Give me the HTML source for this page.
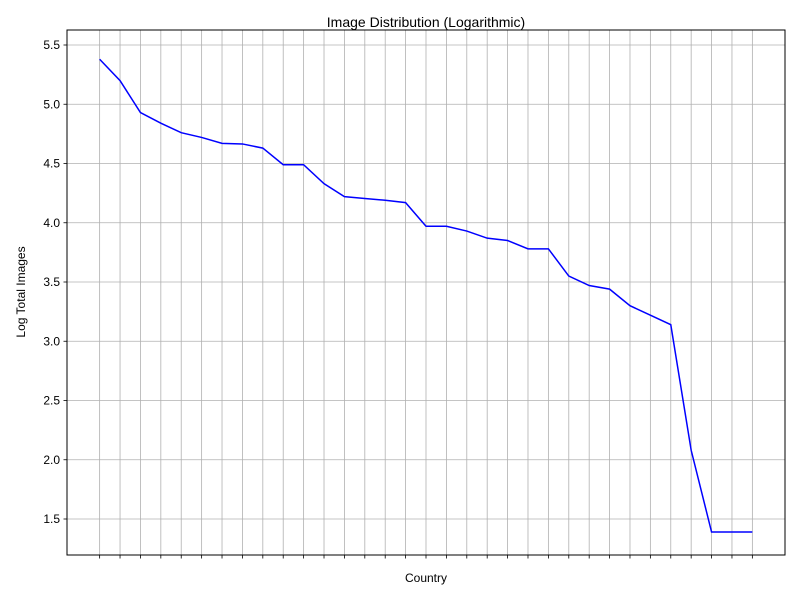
<!DOCTYPE html>
<html><head><meta charset="utf-8"><style>
body{margin:0;background:#fff;font-family:"Liberation Sans",sans-serif}
svg text{font-family:"Liberation Sans",sans-serif}
</style></head><body>
<svg id="chart" width="800" height="600">
<rect width="800" height="600" fill="#fff"/>
<g id="grid"></g>
<g id="axes"></g>
<path id="line" fill="none" stroke="#0000ff" stroke-width="1.5"/>
<rect x="67" y="30" width="718" height="525" fill="none" stroke="#000" stroke-width="1"/>
<text x="426" y="27" text-anchor="middle" font-size="14">Image Distribution (Logarithmic)</text>
<text x="426" y="582" text-anchor="middle" font-size="12">Country</text>
<text transform="translate(25,292) rotate(-90)" text-anchor="middle" font-size="12">Log Total Images</text>
</svg>
<script>
const values=[5.38,5.20,4.93,4.84,4.76,4.72,4.67,4.665,4.63,4.49,4.49,4.33,4.22,4.205,4.19,4.17,3.97,3.97,3.93,3.87,3.85,3.78,3.78,3.55,3.47,3.44,3.30,3.22,3.14,2.08,1.39,1.39,1.39];
const yTicks=[1.5,2.0,2.5,3.0,3.5,4.0,4.5,5.0,5.5];
const yTickLabels=["1.5","2.0","2.5","3.0","3.5","4.0","4.5","5.0","5.5"];
const NS="http://www.w3.org/2000/svg";
const n=values.length;
const xmin=-0.05*(n-1), xmax=(n-1)*1.05;
const X=i=>67+(i-xmin)/(xmax-xmin)*718;
const Y=v=>519-(v-1.5)*118.5;
const grid=document.getElementById('grid'), axes=document.getElementById('axes');
function mk(tag,a,p){const e=document.createElementNS(NS,tag);for(const k in a)e.setAttribute(k,a[k]);p.appendChild(e);return e;}
for(let i=0;i<n;i++){
 const x=X(i);
 const g=mk('line',{x1:x,x2:x,y1:30,y2:555,stroke:'#b0b0b0','stroke-width':0.8},grid);
 
 
 const t=mk('line',{x1:x,x2:x,y1:555,y2:558.5,stroke:'#000','stroke-width':0.8},axes);
 
 
}
yTicks.forEach((v,i)=>{
 const y=Y(v);
 const g=mk('line',{x1:67,x2:785,y1:y,y2:y,stroke:'#b0b0b0','stroke-width':0.8},grid);
 
 
 const t=mk('line',{x1:63.5,x2:67,y1:y,y2:y,stroke:'#000','stroke-width':0.8},axes);
 
 
 const l=mk('text',{x:60,y:y+4,'text-anchor':'end','font-size':12},axes);
 l.textContent=yTickLabels[i];
 
 
});
document.getElementById('line').setAttribute('d',values.map((v,i)=>(i?'L':'M')+X(i).toFixed(2)+','+Y(v).toFixed(2)).join(''));
</script>
</body></html>
